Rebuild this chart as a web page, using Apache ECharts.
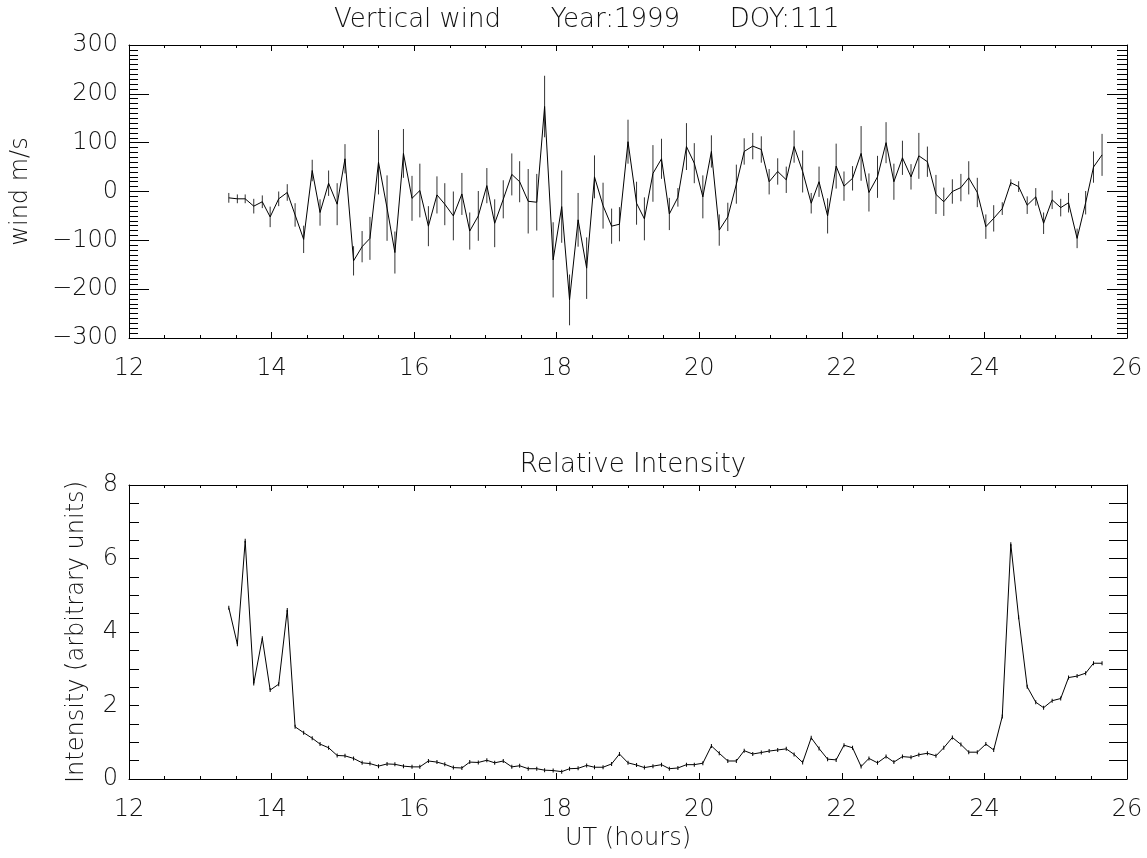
<!DOCTYPE html>
<html>
<head>
<meta charset="utf-8">
<script src="https://cdn.jsdelivr.net/npm/echarts@6/dist/echarts.min.js"></script>
<style>
html,body{margin:0;padding:0;background:#fff;}
#c{width:1147px;height:858px;}
</style>
</head>
<body>
<div id="c"></div>
<script>
// UT hours of each sample
const timesUT = [
13.40,13.52,13.63,13.75,13.87,13.98,14.10,14.22,14.33,14.45,
14.57,14.68,14.80,14.92,15.03,15.15,15.27,15.38,15.50,15.62,
15.73,15.85,15.97,16.08,16.20,16.32,16.43,16.55,16.67,16.78,
16.90,17.02,17.13,17.25,17.37,17.48,17.60,17.72,17.83,17.95,
18.07,18.18,18.30,18.42,18.53,18.65,18.77,18.88,19.00,19.12,
19.23,19.35,19.47,19.58,19.70,19.82,19.93,20.05,20.17,20.28,
20.40,20.52,20.63,20.75,20.87,20.98,21.10,21.22,21.33,21.45,
21.57,21.68,21.80,21.92,22.03,22.15,22.27,22.38,22.50,22.62,
22.73,22.85,22.97,23.08,23.20,23.32,23.43,23.55,23.67,23.78,
23.90,24.02,24.13,24.25,24.37,24.48,24.60,24.72,24.83,24.95,
25.07,25.18,25.30,25.42,25.53,25.65
];
// vertical wind (m/s)
const windValues = [
-13,-15,-15,-30,-21,-52,-15,-2,-48,-98,
43,-43,17,-26,67,-142,-113,-96,60,-34,
-125,78,-14,2,-71,-7,-26,-50,-5,-81,
-50,12,-65,-16,35,20,-20,-22,174,-140,
-31,-222,-58,-157,30,-29,-71,-67,102,-24,
-56,37,67,-46,-12,92,58,-11,82,-79,
-52,15,82,93,86,20,41,24,92,41,
-24,20,-50,52,11,27,78,-2,30,100,
20,69,30,73,61,-6,-21,0,8,28,
-2,-72,-55,-35,18,10,-28,-11,-65,-17,
-33,-23,-96,-23,50,75
];
// half-length of the wind error bars (m/s)
const windErrors = [
10,9,9,15,13,21,15,17,24,28,
22,27,26,43,30,30,32,44,66,67,
43,50,46,55,41,38,43,50,43,38,
51,36,49,39,43,42,66,58,63,77,
74,52,55,63,44,47,36,35,45,44,
44,58,41,33,19,48,41,44,33,32,
29,40,27,27,27,26,27,27,33,43,
21,31,36,46,30,25,56,39,43,42,
37,35,26,47,31,40,29,25,28,34,
30,25,27,13,7,11,18,18,22,19,
18,20,20,24,32,43
];
// relative intensity (arbitrary units)
const intensityValues = [
4.66,3.67,6.48,2.60,3.83,2.42,2.58,4.60,1.42,1.26,
1.11,0.95,0.85,0.64,0.63,0.56,0.44,0.42,0.35,0.41,
0.40,0.35,0.33,0.33,0.49,0.46,0.40,0.31,0.30,0.46,
0.45,0.51,0.44,0.49,0.33,0.36,0.28,0.28,0.24,0.23,
0.20,0.28,0.29,0.37,0.32,0.32,0.41,0.68,0.44,0.38,
0.31,0.35,0.39,0.28,0.30,0.39,0.39,0.43,0.90,0.70,
0.49,0.49,0.77,0.68,0.72,0.76,0.79,0.82,0.67,0.45,
1.12,0.83,0.54,0.52,0.92,0.85,0.34,0.56,0.44,0.61,
0.46,0.61,0.59,0.66,0.70,0.63,0.85,1.13,0.94,0.73,
0.73,0.95,0.79,1.70,6.39,4.40,2.51,2.09,1.94,2.13,
2.19,2.76,2.80,2.88,3.15,3.15
];
const titleTop = 'Vertical wind      Year:1999      DOY:111';
const titleBottom = 'Relative Intensity';
const windAxisName = 'wind m/s';
const intAxisName = 'Intensity (arbitrary units)';
const xAxisName = 'UT (hours)';

const FONT = 'DejaVu Sans';
const TXT = '#111';
const minusFmt = v => String(v).replace('-', '\u2212');

const windLine = timesUT.map((t, i) => [t, windValues[i]]);
const windBars = timesUT.map((t, i) => [t, windValues[i] - windErrors[i], windValues[i] + windErrors[i]]);
const intLine = timesUT.map((t, i) => [t, intensityValues[i]]);

function xAxisDef(gridIndex, pos, showLabel, name) {
  return {
    type: 'value', gridIndex, position: pos, min: 12, max: 26, interval: 2,
    name: name || '', nameLocation: 'middle', nameGap: 48,
    nameTextStyle: {fontFamily: FONT, fontSize: 24, color: TXT, fontWeight: 'lighter'},
    axisLine: {show: true, onZero: false, lineStyle: {color: '#000', width: 1}},
    axisTick: {show: true, inside: true, length: 6, lineStyle: {color: '#000'}},
    minorTick: {show: true, splitNumber: 4, length: 3, lineStyle: {color: '#000'}},
    axisLabel: {show: showLabel, fontFamily: FONT, fontSize: 24, color: TXT, margin: 19, fontWeight: 'lighter'},
    splitLine: {show: false}
  };
}
function yAxisDef(gridIndex, pos, showLabel, min, max, interval, minorSplit, majLen, minLen, name, gap) {
  return {
    type: 'value', gridIndex, position: pos, min, max, interval,
    name: name || '', nameLocation: 'middle', nameGap: gap || 0, nameRotate: 90,
    nameTextStyle: {fontFamily: FONT, fontSize: 24, color: TXT, fontWeight: 'lighter'},
    axisLine: {show: true, onZero: false, lineStyle: {color: '#000', width: 1}},
    axisTick: {show: true, inside: true, length: majLen, lineStyle: {color: '#000'}},
    minorTick: {show: true, splitNumber: minorSplit, length: minLen, lineStyle: {color: '#000'}},
    axisLabel: {show: showLabel, fontFamily: FONT, fontSize: 24, color: TXT, margin: 11, fontWeight: 'lighter', formatter: minusFmt},
    splitLine: {show: false}
  };
}

const chart = echarts.init(document.getElementById('c'), null, {renderer: 'canvas'});
chart.setOption({
  animation: false,
  backgroundColor: '#fff',
  title: [
    {text: titleTop, left: 329, top: 2, textAlign: 'left',
     textStyle: {fontFamily: FONT, fontSize: 26, color: TXT, fontWeight: 'lighter'}},
    {text: titleBottom, left: 628, top: 447, textAlign: 'center',
     textStyle: {fontFamily: FONT, fontSize: 26, color: TXT, fontWeight: 'lighter'}}
  ],
  grid: [
    {left: 129, right: 20, top: 45, height: 293, outerBoundsMode: 'none', containLabel: false},
    {left: 129, right: 20, top: 485, height: 294, outerBoundsMode: 'none', containLabel: false}
  ],
  xAxis: [
    xAxisDef(0, 'bottom', true),
    xAxisDef(0, 'top', false),
    xAxisDef(1, 'bottom', true, xAxisName),
    xAxisDef(1, 'top', false)
  ],
  yAxis: [
    yAxisDef(0, 'left', true, -300, 300, 100, 10, 20, 9, windAxisName, 96),
    yAxisDef(0, 'right', false, -300, 300, 100, 10, 20, 10),
    yAxisDef(1, 'left', true, 0, 8, 2, 4, 10, 10, intAxisName, 40),
    yAxisDef(1, 'right', false, 0, 8, 2, 4, 18, 18)
  ],
  series: [
    {
      type: 'custom', xAxisIndex: 0, yAxisIndex: 0, data: windBars, silent: true,
      renderItem: function (params, api) {
        const x = api.value(0);
        const p1 = api.coord([x, api.value(1)]);
        const p2 = api.coord([x, api.value(2)]);
        return {type: 'line', shape: {x1: p1[0], y1: p1[1], x2: p2[0], y2: p2[1]},
                style: {stroke: '#333', lineWidth: 1}};
      },
      encode: {x: 0, y: [1, 2]}
    },
    {
      type: 'line', xAxisIndex: 0, yAxisIndex: 0, data: windLine,
      showSymbol: false, symbol: 'none', lineStyle: {color: '#000', width: 1}, silent: true
    },
    {
      type: 'line', xAxisIndex: 2, yAxisIndex: 2, data: intLine,
      symbol: 'rect', symbolSize: [1, 4], showSymbol: true,
      itemStyle: {color: '#000'}, lineStyle: {color: '#000', width: 1}, silent: true
    }
  ]
});
</script>
</body>
</html>
